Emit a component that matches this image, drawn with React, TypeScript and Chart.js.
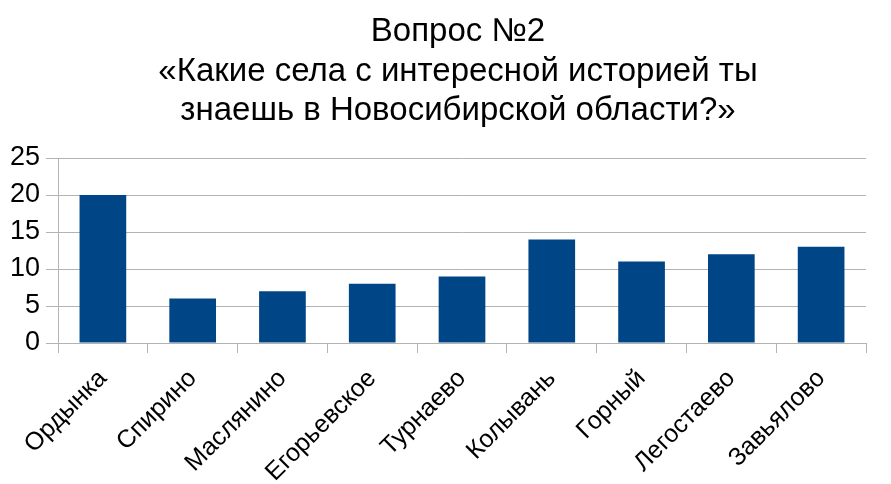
import React, { useEffect, useRef } from "react";
import { Chart, registerables } from "chart.js";

Chart.register(...registerables);

const titleLines = [
  "Вопрос №2",
  "«Какие села с интересной историей ты",
  "знаешь в Новосибирской области?»",
];
const categories = [
  "Ордынка",
  "Спирино",
  "Маслянино",
  "Егорьевское",
  "Турнаево",
  "Колывань",
  "Горный",
  "Легостаево",
  "Завьялово",
];
const values = [20, 6, 7, 8, 9, 14, 11, 12, 13];
const yMin = 0;
const yMax = 25;
const yStep = 5;

const FONT = "'Liberation Sans', Arial, sans-serif";

const titlePlugin = {
  id: "multiTitle",
  afterDraw(chart: any) {
    const ctx = chart.ctx;
    ctx.save();
    ctx.fillStyle = "#000";
    ctx.font = `33px ${FONT}`;
    ctx.textAlign = "center";
    ctx.textBaseline = "alphabetic";
    const cx = 458;
    const firstBaseline = 41;
    const lineGap = 39.5;
    titleLines.forEach((line, i) => {
      ctx.fillText(line, cx, firstBaseline + i * lineGap);
    });
    ctx.restore();
  },
};

export default function App() {
  const ref = useRef<HTMLCanvasElement>(null);
  useEffect(() => {
    document.body.style.margin = "0";
    const ctx = ref.current!;
    const chart = new Chart(ctx, {
      type: "bar",
      data: {
        labels: categories,
        datasets: [
          {
            data: values,
            backgroundColor: "#004586",
            barPercentage: 0.52,
            categoryPercentage: 1,
          },
        ],
      },
      plugins: [titlePlugin],
      options: {
        animation: false,
        responsive: false,
        layout: { padding: { left: 8, right: 25, top: 158, bottom: 0 } },
        plugins: {
          legend: { display: false },
          tooltip: { enabled: false },
          title: { display: false },
        },
        scales: {
          x: {
            afterFit: (scale: any) => {
              scale.height = 141;
            },
            grid: {
              display: true,
              offset: true,
              drawOnChartArea: false,
              drawTicks: true,
              tickLength: 10,
              color: "#b3b3b3",
            },
            border: { display: true, color: "#b3b3b3" },
            ticks: {
              color: "#000",
              font: { family: FONT, size: 25 },
              maxRotation: 45,
              minRotation: 45,
              padding: 11,
            },
          },
          y: {
            min: yMin,
            max: yMax,
            afterFit: (scale: any) => {
              scale.width = 50;
            },
            ticks: {
              stepSize: yStep,
              color: "#000",
              font: { family: FONT, size: 27 },
              padding: 6,
            },
            grid: {
              color: "#b3b3b3",
              tickLength: 12,
            },
            border: { display: true, color: "#b3b3b3" },
          },
        },
      },
    });
    return () => chart.destroy();
  }, []);
  return (
    <div style={{ width: 891, height: 484, background: "#fff" }}>
      <canvas ref={ref} width={891} height={484} />
    </div>
  );
}
